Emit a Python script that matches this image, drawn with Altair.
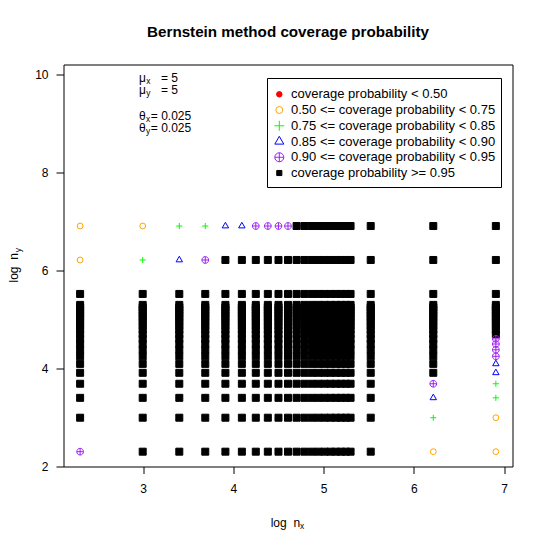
import altair as alt
import pandas as pd

# ---- data ----
n_values = [10, 20, 30, 40, 50, 60, 70, 80, 90, 100, 110, 120, 130, 140, 150,
            160, 170, 180, 190, 200, 250, 500, 1000]

categories = [
    "coverage probability < 0.50",
    "0.50 <= coverage probability < 0.75",
    "0.75 <= coverage probability < 0.85",
    "0.85 <= coverage probability < 0.90",
    "0.90 <= coverage probability < 0.95",
    "coverage probability >= 0.95",
]

# cells (n_x, n_y) that are below 0.95; every other cell is >= 0.95
cells_050_075 = [(10, 1000), (20, 1000), (10, 500), (1000, 10), (1000, 20), (500, 10)]
cells_075_085 = [(30, 1000), (40, 1000), (20, 500), (1000, 30), (1000, 40), (500, 20)]
cells_085_090 = [(50, 1000), (60, 1000), (30, 500), (1000, 50), (1000, 60), (500, 30)]
cells_090_095 = [(70, 1000), (80, 1000), (90, 1000), (100, 1000), (40, 500),
                 (1000, 70), (1000, 80), (1000, 90), (1000, 100), (500, 40), (10, 10)]

title_text = "Bernstein method coverage probability"
axis_title = "log\u00a0\u00a0n"
annot_rows = [("\u03bc", "x", "= 5"), ("\u03bc", "y", "= 5"),
              ("\u03b8", "x", "= 0.025"), ("\u03b8", "y", "= 0.025")]

# ---- build table ----
lookup = {}
for c in cells_050_075:
    lookup[c] = categories[1]
for c in cells_075_085:
    lookup[c] = categories[2]
for c in cells_085_090:
    lookup[c] = categories[3]
for c in cells_090_095:
    lookup[c] = categories[4]

rows = []
for nx in n_values:
    for ny in n_values:
        rows.append({"nx": nx, "ny": ny, "cat": lookup.get((nx, ny), categories[5])})
df = pd.DataFrame(rows)
df["order"] = df["cat"].map({c: i for i, c in enumerate(categories)})
df = df.sort_values("order", ascending=False)

# ---- styles ----
FONT = "Liberation Sans"
PLUS = "M-1,0L1,0M0,-1L0,1"
TRI = "M0,-1.1547L1,0.5774L-1,0.5774Z"
CROSSC = "M-1,0A1,1,0,1,1,1,0A1,1,0,1,1,-1,0ZM-1,0L1,0M0,-1L0,1"
shape_range = ["circle", "circle", PLUS, TRI, CROSSC, "square"]
stroke_range = ["#FF0000", "#FFA500", "#00FF00", "#0000FF", "#A020F0", "#000000"]
fill_range = ["#FF0000", "transparent", "transparent", "transparent", "transparent", "#000000"]
size_range = [30, 49, 100, 81, 81, 26]

W, H = 449.0, 402.0
PL, PT = 55.5, 56.5  # plot left/top inside page (after 8px margin)


def px(x):
    return x - 8 - PL


def py(y):
    return y - 8 - PT


points = alt.Chart(df).transform_calculate(
    lx="log(datum.nx)", ly="log(datum.ny)"
).mark_point(opacity=1, strokeWidth=1).encode(
    x=alt.X("lx:Q", scale=alt.Scale(domain=[2.1185, 7.0921], nice=False, zero=False),
            axis=alt.Axis(values=[3, 4, 5, 6, 7], title=None, grid=False, domain=False,
                          tickSize=7, tickColor="black", labelPadding=10, labelFontSize=12,
                          labelFont=FONT, labelColor="black", format="d", labelFlush=False)),
    y=alt.Y("ly:Q", scale=alt.Scale(domain=[2, 10.204], nice=False, zero=False),
            axis=alt.Axis(values=[2, 4, 6, 8, 10], title=None, grid=False, domain=False,
                          tickSize=7.5, tickColor="black", labelPadding=8, labelFontSize=12,
                          labelFont=FONT, labelColor="black", format="d", labelFlush=False)),
    shape=alt.Shape("cat:N", scale=alt.Scale(domain=categories, range=shape_range), legend=None),
    stroke=alt.Stroke("cat:N", scale=alt.Scale(domain=categories, range=stroke_range), legend=None),
    fill=alt.Fill("cat:N", scale=alt.Scale(domain=categories, range=fill_range), legend=None),
    size=alt.Size("cat:N", scale=alt.Scale(domain=categories, range=size_range), legend=None),
    order=alt.Order("order:Q", sort="descending"),
)

one = alt.Data(values=[{}])
layers = [points]


def text_layer(txt, x, y, size=12, weight="normal", align="left", angle=0):
    kw = dict(text=txt, font=FONT, fontSize=size, fontWeight=weight, align=align,
              baseline="alphabetic", color="black")
    if angle:
        kw["angle"] = angle
    return alt.Chart(one).mark_text(**kw).encode(x=alt.value(px(x)), y=alt.value(py(y)))


def rule_layer(x1, y1, x2, y2):
    return alt.Chart(one).mark_rule(color="black", strokeWidth=1).encode(
        x=alt.value(px(x1)), x2=alt.value(px(x2)), y=alt.value(py(y1)), y2=alt.value(py(y2)))


# title
layers.append(text_layer(title_text, 8 + PL + W / 2, 36.5, size=15.2, weight="bold", align="center"))
# x axis title
layers.append(text_layer(axis_title, 270.7, 526.5))
layers.append(text_layer("x", 300.0, 529.0, size=8.4))
# y axis title (rotated)
layers.append(text_layer(axis_title, 18.0, 282.5, angle=270))
layers.append(text_layer("y", 21.0, 252.3, size=8.4, angle=270))

# annotations
annot_base = [82.0, 93.5, 119.5, 131.5]
annot_sub_x = [146.2, 146.2, 146.0, 146.0]
annot_eq_x = [161.0, 161.0, 150.8, 150.8]
for (g, sub, rest), yb, sx, ex in zip(annot_rows, annot_base, annot_sub_x, annot_eq_x):
    layers.append(text_layer(g, 139.0, yb))
    layers.append(text_layer(sub, sx, yb + 2.4, size=8.4))
    layers.append(text_layer(rest, ex, yb))

# legend box
LX1, LX2, LY1, LY2 = 267.5, 501.5, 78.5, 187.5
layers.append(rule_layer(LX1, LY1, LX2, LY1))
layers.append(rule_layer(LX1, LY2, LX2, LY2))
layers.append(rule_layer(LX1, LY1, LX1, LY2))
layers.append(rule_layer(LX2, LY1, LX2, LY2))
for i, cat in enumerate(categories):
    yc = 94.3 + i * 15.74
    layers.append(alt.Chart(one).mark_point(
        shape=shape_range[i], stroke=stroke_range[i], fill=fill_range[i],
        size=size_range[i], opacity=1, strokeWidth=1).encode(
        x=alt.value(px(279.3)), y=alt.value(py(yc))))
    layers.append(alt.Chart(one).mark_text(
        text=cat, font=FONT, fontSize=13, align="left", baseline="middle", color="black").encode(
        x=alt.value(px(291.0)), y=alt.value(py(yc))))

chart = alt.layer(*layers).properties(
    width=W, height=H,
    background="white",
    autosize=alt.AutoSizeParams(type="none"),
    padding={"left": PL, "top": PT, "right": 530 - PL - W, "bottom": 530 - PT - H},
).configure_view(stroke="black", strokeWidth=1)

chart.save("out.html", embed_options={"renderer": "svg", "actions": False})
